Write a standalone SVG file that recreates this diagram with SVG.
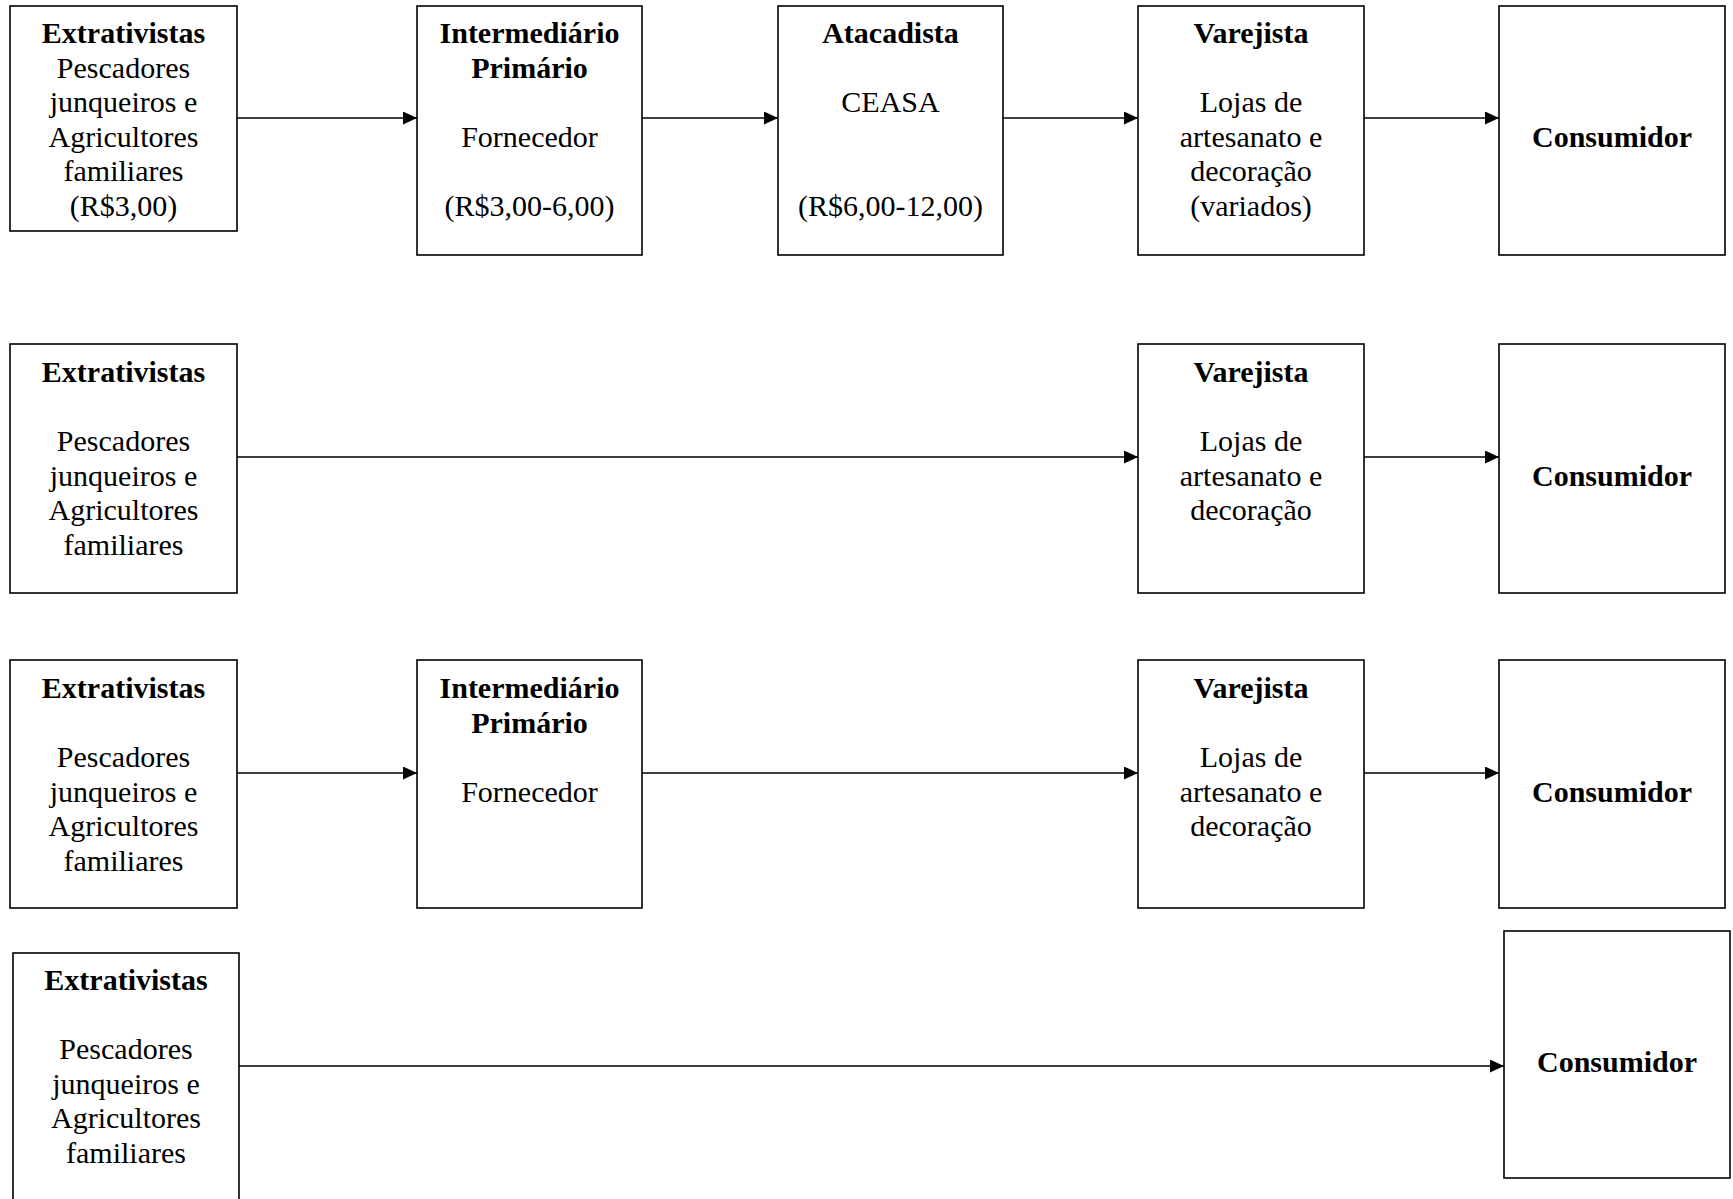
<svg xmlns="http://www.w3.org/2000/svg" width="1733" height="1199" viewBox="0 0 1733 1199">
<style>
.box{fill:#fff;stroke:#000;stroke-width:1.6}
text{font-family:"Liberation Serif","Times New Roman",serif;font-size:30px;fill:#000;text-anchor:middle}
.b{font-weight:bold}
.c{stroke:#000;stroke-width:1.6;fill:none;marker-end:url(#ah)}
</style>
<defs>
<marker id="ah" markerUnits="userSpaceOnUse" markerWidth="16" markerHeight="14" refX="14" refY="6.5" orient="auto"><path d="M0,0 L14,6.5 L0,13 Z" fill="#000"/></marker>
</defs>
<rect width="1733" height="1199" fill="#fff"/>
<g id="connectors">
<line class="c" x1="237" y1="118" x2="417" y2="118"/>
<line class="c" x1="642" y1="118" x2="778" y2="118"/>
<line class="c" x1="1003" y1="118" x2="1138" y2="118"/>
<line class="c" x1="1364" y1="118" x2="1499" y2="118"/>
<line class="c" x1="237" y1="457" x2="1138" y2="457"/>
<line class="c" x1="1364" y1="457" x2="1499" y2="457"/>
<line class="c" x1="237" y1="773" x2="417" y2="773"/>
<line class="c" x1="642" y1="773" x2="1138" y2="773"/>
<line class="c" x1="1364" y1="773" x2="1499" y2="773"/>
<line class="c" x1="239" y1="1066" x2="1504" y2="1066"/>
</g>
<g id="r1-extrativistas">
<rect class="box" x="10" y="6" width="227" height="225"/>
<text class="b" x="123.5" y="43">Extrativistas</text>
<text x="123.5" y="77.5">Pescadores</text>
<text x="123.5" y="112">junqueiros e</text>
<text x="123.5" y="146.5">Agricultores</text>
<text x="123.5" y="181">familiares</text>
<text x="123.5" y="215.5">(R$3,00)</text>
</g>
<g id="r1-intermediario">
<rect class="box" x="417" y="6" width="225" height="249"/>
<text class="b" x="529.5" y="43">Intermediário</text>
<text class="b" x="529.5" y="77.5">Primário</text>
<text x="529.5" y="146.5">Fornecedor</text>
<text x="529.5" y="215.5">(R$3,00-6,00)</text>
</g>
<g id="r1-atacadista">
<rect class="box" x="778" y="6" width="225" height="249"/>
<text class="b" x="890.5" y="43">Atacadista</text>
<text x="890.5" y="112">CEASA</text>
<text x="890.5" y="215.5">(R$6,00-12,00)</text>
</g>
<g id="r1-varejista">
<rect class="box" x="1138" y="6" width="226" height="249"/>
<text class="b" x="1251" y="43">Varejista</text>
<text x="1251" y="112">Lojas de</text>
<text x="1251" y="146.5">artesanato e</text>
<text x="1251" y="181">decoração</text>
<text x="1251" y="215.5">(variados)</text>
</g>
<g id="r1-consumidor">
<rect class="box" x="1499" y="6" width="226" height="249"/>
<text class="b" x="1612" y="146.5">Consumidor</text>
</g>
<g id="r2-extrativistas">
<rect class="box" x="10" y="344" width="227" height="249"/>
<text class="b" x="123.5" y="382">Extrativistas</text>
<text x="123.5" y="451">Pescadores</text>
<text x="123.5" y="485.5">junqueiros e</text>
<text x="123.5" y="520">Agricultores</text>
<text x="123.5" y="554.5">familiares</text>
</g>
<g id="r2-varejista">
<rect class="box" x="1138" y="344" width="226" height="249"/>
<text class="b" x="1251" y="382">Varejista</text>
<text x="1251" y="451">Lojas de</text>
<text x="1251" y="485.5">artesanato e</text>
<text x="1251" y="520">decoração</text>
</g>
<g id="r2-consumidor">
<rect class="box" x="1499" y="344" width="226" height="249"/>
<text class="b" x="1612" y="485.5">Consumidor</text>
</g>
<g id="r3-extrativistas">
<rect class="box" x="10" y="660" width="227" height="248"/>
<text class="b" x="123.5" y="698">Extrativistas</text>
<text x="123.5" y="767">Pescadores</text>
<text x="123.5" y="801.5">junqueiros e</text>
<text x="123.5" y="836">Agricultores</text>
<text x="123.5" y="870.5">familiares</text>
</g>
<g id="r3-intermediario">
<rect class="box" x="417" y="660" width="225" height="248"/>
<text class="b" x="529.5" y="698">Intermediário</text>
<text class="b" x="529.5" y="732.5">Primário</text>
<text x="529.5" y="801.5">Fornecedor</text>
</g>
<g id="r3-varejista">
<rect class="box" x="1138" y="660" width="226" height="248"/>
<text class="b" x="1251" y="698">Varejista</text>
<text x="1251" y="767">Lojas de</text>
<text x="1251" y="801.5">artesanato e</text>
<text x="1251" y="836">decoração</text>
</g>
<g id="r3-consumidor">
<rect class="box" x="1499" y="660" width="226" height="248"/>
<text class="b" x="1612" y="801.5">Consumidor</text>
</g>
<g id="r4-extrativistas">
<rect class="box" x="13" y="953" width="226" height="260"/>
<text class="b" x="126" y="990">Extrativistas</text>
<text x="126" y="1059">Pescadores</text>
<text x="126" y="1093.5">junqueiros e</text>
<text x="126" y="1128">Agricultores</text>
<text x="126" y="1162.5">familiares</text>
</g>
<g id="r4-consumidor">
<rect class="box" x="1504" y="931" width="226" height="247"/>
<text class="b" x="1617" y="1072">Consumidor</text>
</g>
</svg>
